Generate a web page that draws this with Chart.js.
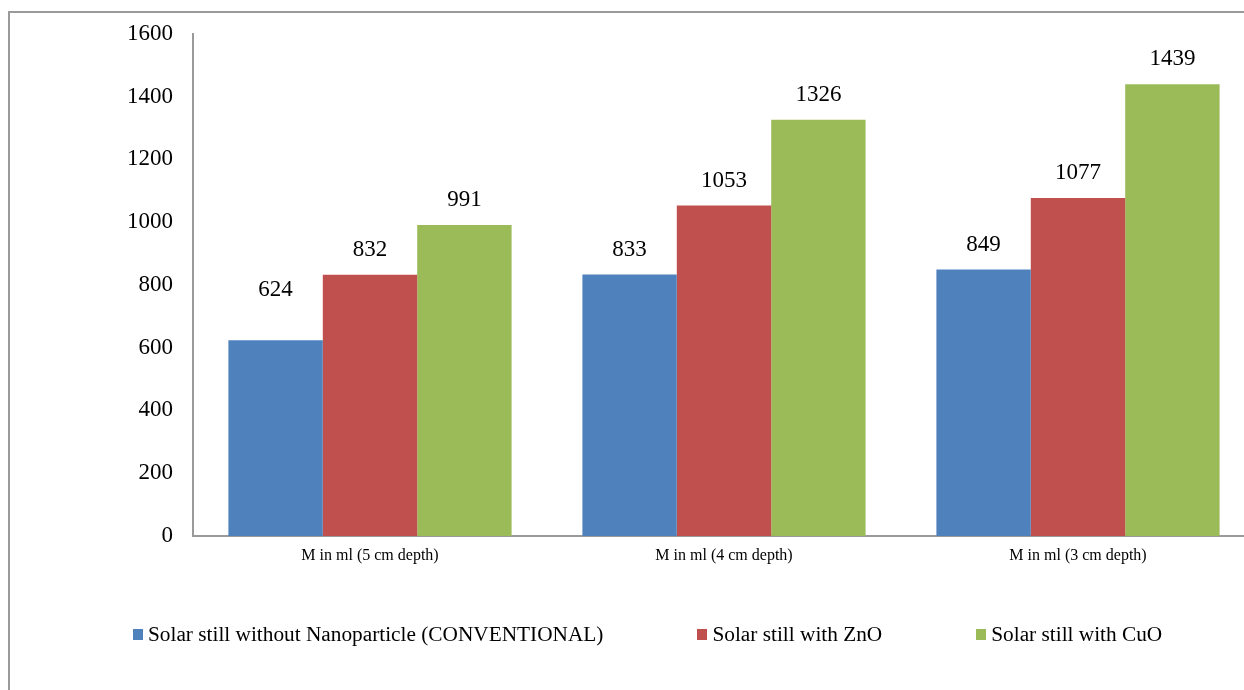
<!DOCTYPE html>
<html>
<head>
<meta charset="utf-8">
<title>Solar still yield</title>
<script src="https://cdn.jsdelivr.net/npm/chart.js@4.4.1/dist/chart.umd.min.js"></script>
<style>
  html, body { margin: 0; padding: 0; background: #fff; overflow: hidden; }
  body { width: 1244px; height: 690px; position: relative; }
  .frame { position: absolute; left: 8px; top: 11px; width: 1300px; height: 800px; border: 2px solid #9a9a9a; }
  .chart-wrap { position: absolute; left: 0; top: 0; width: 1260px; height: 690px; }
  #legend { position: absolute; left: 133px; top: 622px; display: flex; font-family: 'Liberation Serif', serif; font-size: 21.3px; line-height: 24px; color: #000; white-space: nowrap; }
  .legend-item { display: flex; align-items: center; margin-right: 94px; }
  .legend-box { width: 10px; height: 11px; margin-right: 5px; }
</style>
</head>
<body>
<div class="frame"></div>
<div class="chart-wrap"><canvas id="yieldChart" width="1260" height="690"></canvas></div>
<div id="legend"></div>
<script>
// --- Data ---
const categories = ['M in ml (5 cm depth)', 'M in ml (4 cm depth)', 'M in ml (3 cm depth)'];
const conventional = [624, 833, 849];
const withZnO = [832, 1053, 1077];
const withCuO = [991, 1326, 1439];
const seriesNames = ['Solar still without Nanoparticle (CONVENTIONAL)', 'Solar still with ZnO', 'Solar still with CuO'];
const seriesColors = ['#4F81BD', '#C0504D', '#9BBB59'];
const yMax = 1600;
const yStep = 200;

const seriesValues = [conventional, withZnO, withCuO];
const serif = "'Liberation Serif', 'Times New Roman', serif";

// numbers above each bar; a label can be lifted further by "dataset-index" key
const valueLabels = {
    id: 'valueLabels',
    afterDatasetsDraw(chart, args, opts) {
        const ctx = chart.ctx;
        const lift = opts.lift || {};
        ctx.save();
        ctx.font = '23px ' + serif;
        ctx.fillStyle = '#000';
        ctx.textAlign = 'center';
        ctx.textBaseline = 'middle';
        chart.data.datasets.forEach((ds, i) => {
            chart.getDatasetMeta(i).data.forEach((bar, j) => {
                const off = opts.offset + (lift[i + '-' + j] || 0);
                ctx.fillText(String(ds.data[j]), bar.x, bar.y - off);
            });
        });
        ctx.restore();
    }
};

const ctx = document.getElementById('yieldChart').getContext('2d');
const chart = new Chart(ctx, {
    type: 'bar',
    data: {
        labels: categories,
        datasets: seriesValues.map((vals, i) => ({
            label: seriesNames[i],
            data: vals,
            backgroundColor: seriesColors[i],
            borderWidth: 0,
            categoryPercentage: 0.8,
            barPercentage: 1.0
        }))
    },
    options: {
        responsive: false,
        animation: false,
        devicePixelRatio: 1,
        layout: { padding: { top: 33, right: 5, bottom: 114, left: 0 } },
        plugins: {
            legend: { display: false },
            tooltip: { enabled: false },
            valueLabels: { offset: 25, lift: { '0-0': 25 } }
        },
        scales: {
            x: {
                grid: { display: false, drawTicks: false },
                border: { display: true, color: '#9a9a9a', width: 2 },
                ticks: { color: '#000', font: { family: serif, size: 16 }, padding: 10 },
                afterFit: (scale) => { scale.height = 40; }
            },
            y: {
                min: 0,
                max: yMax,
                grid: { display: false, drawTicks: false },
                border: { display: true, color: '#9a9a9a', width: 2 },
                ticks: {
                    stepSize: yStep,
                    color: '#000',
                    font: { family: serif, size: 23 },
                    padding: 20,
                    callback: (val) => String(val)
                },
                afterFit: (scale) => { scale.width = 193; }
            }
        }
    },
    plugins: [valueLabels]
});

// --- Legend ---
const legendEl = document.getElementById('legend');
chart.data.datasets.forEach(ds => {
    const item = document.createElement('div');
    item.className = 'legend-item';
    item.innerHTML = `<span class="legend-box" style="background:${ds.backgroundColor}"></span><span>${ds.label}</span>`;
    legendEl.appendChild(item);
});
</script>
</body>
</html>
